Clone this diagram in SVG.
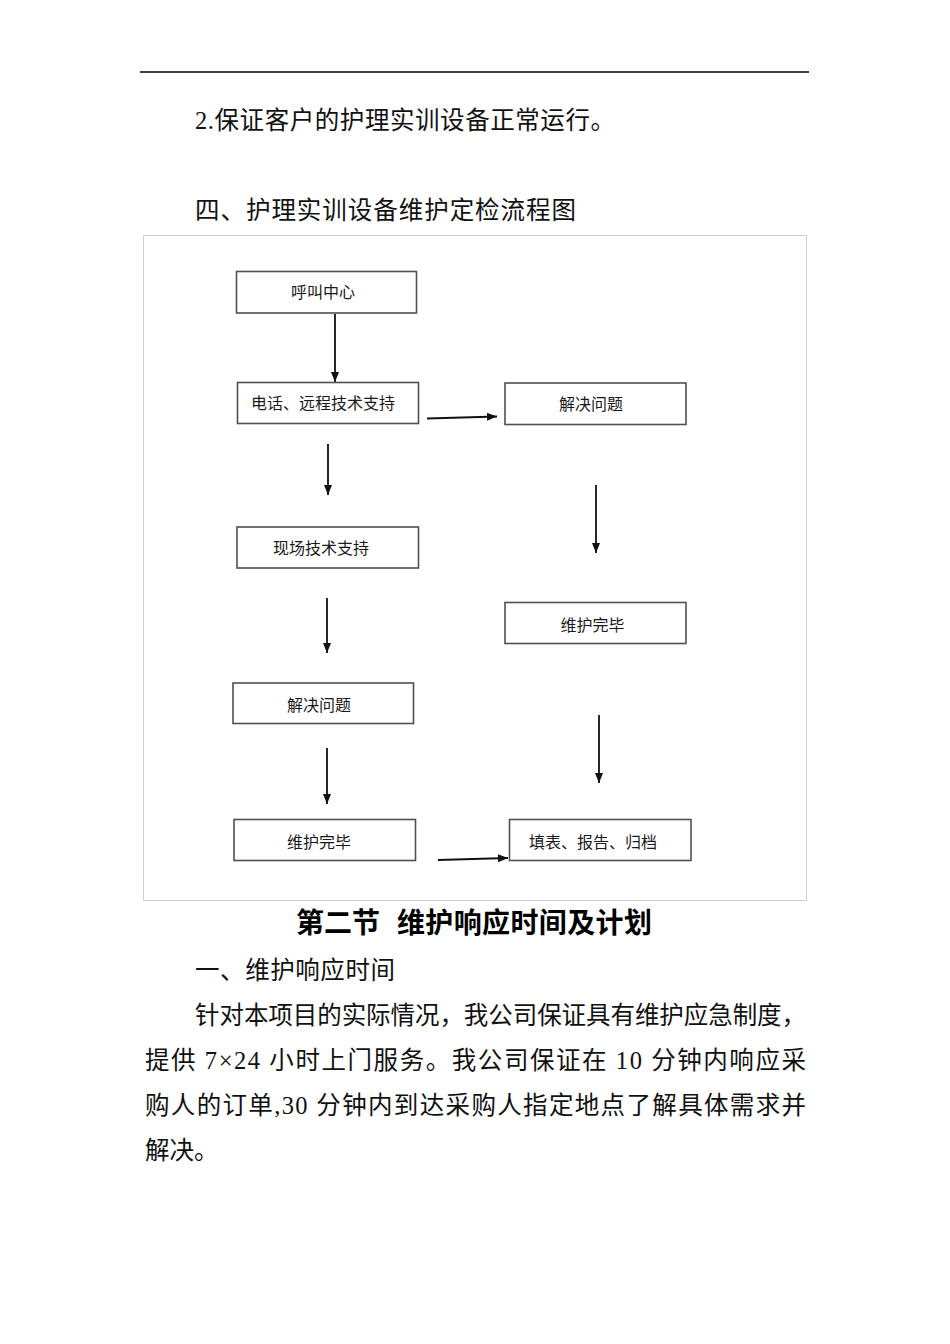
<svg xmlns="http://www.w3.org/2000/svg" width="950" height="1344" viewBox="0 0 950 1344">
<style>
.doc{font-family:"Liberation Serif","Noto Sans CJK SC",serif;font-size:24.5px;fill:#111}
.title{font-family:"Liberation Sans","Noto Sans CJK SC",sans-serif;font-size:28px;font-weight:bold;fill:#000}
.box{fill:#fff;stroke:#505050;stroke-width:1.6}
.lbl{font-family:"Liberation Sans","Noto Sans CJK SC",sans-serif;font-size:16px;fill:#1a1a1a;text-anchor:middle;dominant-baseline:central}
.con{stroke:#111;stroke-width:1.8;fill:none;marker-end:url(#ah)}
</style>
<defs>
<marker id="ah" viewBox="0 0 10 8" refX="10" refY="4" markerWidth="10" markerHeight="8" markerUnits="userSpaceOnUse" orient="auto">
<path d="M0,0 L10,4 L0,8 z" fill="#111"/>
</marker>
</defs>
<rect width="950" height="1344" fill="#fff"/>
<line x1="140" y1="72" x2="809" y2="72" stroke="#000" stroke-width="1.5"/>
<text class="doc" x="195" y="129" textLength="420">2.保证客户的护理实训设备正常运行。</text>
<text class="doc" x="195" y="219" textLength="381">四、护理实训设备维护定检流程图</text>
<rect x="143.5" y="235.5" width="663" height="665" fill="none" stroke="#cfcfcf" stroke-width="1"/>
<g id="connectors">
<line class="con" x1="335" y1="314" x2="335" y2="382"/>
<line class="con" x1="427" y1="418.5" x2="497" y2="416.5"/>
<line class="con" x1="328" y1="444" x2="328" y2="495"/>
<line class="con" x1="596" y1="485" x2="596" y2="553"/>
<line class="con" x1="327" y1="598" x2="327" y2="653"/>
<line class="con" x1="327" y1="748" x2="327" y2="804"/>
<line class="con" x1="599" y1="715" x2="599" y2="783"/>
<line class="con" x1="438" y1="860" x2="508" y2="858"/>
</g>
<g id="n1"><rect class="box" x="236.5" y="271.5" width="180" height="41.5"/><text class="lbl" x="323" y="292">呼叫中心</text></g>
<g id="n2"><rect class="box" x="237.5" y="382.5" width="181" height="41"/><text class="lbl" x="323" y="403">电话、远程技术支持</text></g>
<g id="n3"><rect class="box" x="505" y="383" width="181" height="41.5"/><text class="lbl" x="591" y="404">解决问题</text></g>
<g id="n4"><rect class="box" x="237" y="527" width="181.5" height="41"/><text class="lbl" x="321" y="548.5">现场技术支持</text></g>
<g id="n5"><rect class="box" x="505" y="602.5" width="181" height="41"/><text class="lbl" x="592.5" y="625">维护完毕</text></g>
<g id="n6"><rect class="box" x="233" y="683" width="180.5" height="40.5"/><text class="lbl" x="319" y="705.5">解决问题</text></g>
<g id="n7"><rect class="box" x="234" y="819.5" width="181.5" height="41"/><text class="lbl" x="319" y="842.5">维护完毕</text></g>
<g id="n8"><rect class="box" x="509.5" y="819.5" width="181.5" height="41"/><text class="lbl" x="593" y="842.5">填表、报告、归档</text></g>
<text class="title" x="296" y="933">第二节</text>
<text class="title" x="397" y="933" textLength="255">维护响应时间及计划</text>
<text class="doc" x="195" y="979" textLength="200">一、维护响应时间</text>
<text class="doc" x="195" y="1024" textLength="611">针对本项目的实际情况，我公司保证具有维护应急制度，</text>
<text class="doc" x="145" y="1069" textLength="661">提供 7×24 小时上门服务。我公司保证在 10 分钟内响应采</text>
<text class="doc" x="145" y="1114" textLength="661">购人的订单,30 分钟内到达采购人指定地点了解具体需求并</text>
<text class="doc" x="145" y="1159">解决。</text>
</svg>
